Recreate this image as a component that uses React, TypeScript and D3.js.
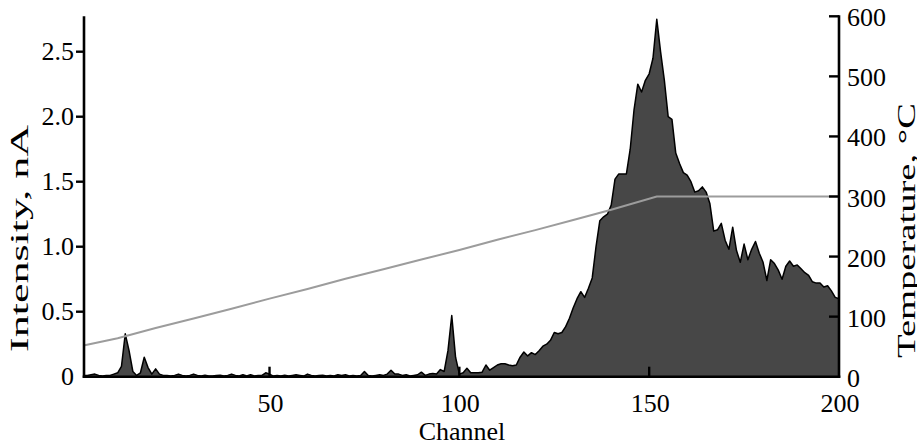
import React from 'react';
import * as d3 from 'd3';

// intensity (nA) per channel, channel 1..200
const intensity = [
    0.01, 0.01, 0.015, 0.02, 0.01, 0.005, 0.01, 0.01, 0.02, 0.03,
    0.08, 0.33, 0.2, 0.04, 0.01, 0.03, 0.15, 0.07, 0.02, 0.06,
    0.02, 0.01, 0.01, 0.005, 0.01, 0.02, 0.01, 0.005, 0.01, 0.02,
    0.01, 0.005, 0.012, 0.005, 0.005, 0.01, 0.012, 0.005, 0.01, 0.02,
    0.01, 0.005, 0.015, 0.005, 0.015, 0.005, 0.01, 0.01, 0.03, 0.02,
    0.005, 0.01, 0.005, 0.012, 0.005, 0.01, 0.015, 0.01, 0.005, 0.02,
    0.01, 0.005, 0.01, 0.012, 0.005, 0.01, 0.005, 0.015, 0.01, 0.015,
    0.005, 0.01, 0.005, 0.01, 0.04, 0.01, 0.005, 0.01, 0.015, 0.01,
    0.02, 0.05, 0.02, 0.02, 0.01, 0.015, 0.005, 0.01, 0.015, 0.035,
    0.01, 0.02, 0.025, 0.02, 0.055, 0.04, 0.2, 0.47, 0.15, 0.02,
    0.03, 0.065, 0.03, 0.03, 0.03, 0.035, 0.09, 0.05, 0.07, 0.09,
    0.1, 0.1, 0.09, 0.085, 0.09, 0.15, 0.19, 0.16, 0.185, 0.17,
    0.2, 0.235, 0.25, 0.28, 0.34, 0.33, 0.34, 0.385, 0.45, 0.53,
    0.6, 0.654, 0.61, 0.68, 0.76, 1.0, 1.2, 1.23, 1.25, 1.32,
    1.52, 1.56, 1.56, 1.56, 1.75, 2.05, 2.25, 2.19, 2.28, 2.33,
    2.45, 2.75, 2.5, 2.28, 2.0, 1.98, 1.72, 1.64, 1.57, 1.55,
    1.5, 1.42, 1.43, 1.46, 1.42, 1.33, 1.12, 1.13, 1.18, 1.05,
    0.98, 1.15, 0.97, 0.88, 1.02, 0.9, 0.98, 1.04, 0.95, 0.88,
    0.74, 0.9, 0.87, 0.82, 0.75, 0.85, 0.89, 0.85, 0.86, 0.83,
    0.8, 0.78, 0.73, 0.72, 0.72, 0.69, 0.7, 0.66, 0.61, 0.6
];

// temperature ramp (°C)
const tempChannels = [1, 10, 20, 30, 40, 50, 60, 70, 80, 90, 100, 110, 120, 130, 140, 152, 200];
const tempValues = [52, 64, 81, 97, 113, 130, 146, 163, 179, 195, 211, 228, 244, 261, 278, 300, 300];

const intensityTicks = [0, 0.5, 1, 1.5, 2, 2.5];
const tempTicks = [0, 100, 200, 300, 400, 500, 600];
const channelTicks = [50, 100, 150, 200];

const FONT = '"Liberation Serif", "Times New Roman", serif';

function App() {
    const W = 917, H = 446;
    const left = 84, right = 839, top = 16.3, bottom = 376.7;

    const xScale = d3.scaleLinear().domain([1, 200]).range([83.5, right]);
    const yScale = d3.scaleLinear().domain([0, (bottom - top) / 130]).range([bottom, top]);
    const tScale = d3.scaleLinear().domain([0, 600]).range([bottom, top]);

    const pts = intensity.map((v, i) => ({ ch: i + 1, v }));
    const area = d3.area<any>().x(d => xScale(d.ch)).y0(bottom).y1(d => yScale(d.v));
    const line = d3.line<any>().x(d => xScale(d.ch)).y(d => yScale(d.v));
    const tempLine = d3.line<any>().x(d => xScale(d[0])).y(d => tScale(d[1]));
    const tempPts = tempChannels.map((c, i) => [c, tempValues[i]]);

    return (
        <svg width={W} height={H} style={{ position: 'absolute', left: 0, top: 0, display: 'block' }}
            fontFamily={FONT} fontSize={26}>
            <rect width={W} height={H} fill="#fff" />

            {/* intensity histogram */}
            <path d={area(pts)} fill="#474747" />
            <path d={line(pts)} fill="none" stroke="#000" strokeWidth={1.5} strokeLinejoin="round" />

            {/* temperature */}
            <path d={tempLine(tempPts)} fill="none" stroke="#9c9c9c" strokeWidth={2} />

            {/* axes */}
            <line x1={left} x2={left} y1={top} y2={bottom + 1} stroke="#000" strokeWidth={2.6} />
            <line x1={left - 1.3} x2={right + 1.3} y1={bottom} y2={bottom} stroke="#000" strokeWidth={2.6} />
            <line x1={right} x2={right} y1={top - 1} y2={bottom + 1} stroke="#000" strokeWidth={2.6} />

            {/* left ticks */}
            {intensityTicks.map(t => (
                <g key={'l' + t}>
                    {t > 0 && <line x1={left - 8} x2={left} y1={yScale(t)} y2={yScale(t)} stroke="#000" strokeWidth={2.4} />}
                    <text x={74} y={yScale(t) + 8.6} textAnchor="end">{t === 0 ? '0' : d3.format('.1f')(t)}</text>
                </g>
            ))}

            {/* right ticks */}
            {tempTicks.map(t => (
                <g key={'r' + t}>
                    {t > 0 && <line x1={right - 10} x2={right} y1={tScale(t)} y2={tScale(t)} stroke="#000" strokeWidth={2.4} />}
                    <text x={847} y={tScale(t) + 10} textAnchor="start">{t}</text>
                </g>
            ))}

            {/* bottom ticks */}
            {channelTicks.map(t => (
                <g key={'b' + t}>
                    {t < 200 && <line x1={xScale(t)} x2={xScale(t)} y1={bottom - 10} y2={bottom} stroke="#000" strokeWidth={2.4} />}
                    <text x={xScale(t) + 1} y={411.5} textAnchor="middle">{t}</text>
                </g>
            ))}

            {/* axis titles */}
            <text x={462} y={440} textAnchor="middle">Channel</text>
            <text transform="translate(27.5,238.5) rotate(-90)" textAnchor="middle"
                textLength={227} lengthAdjust="spacingAndGlyphs">Intensity, nA</text>
            <text transform="translate(915,230.5) rotate(-90)" textAnchor="middle"
                textLength={255} lengthAdjust="spacingAndGlyphs">Temperature, °C</text>
        </svg>
    );
}

export default App;
